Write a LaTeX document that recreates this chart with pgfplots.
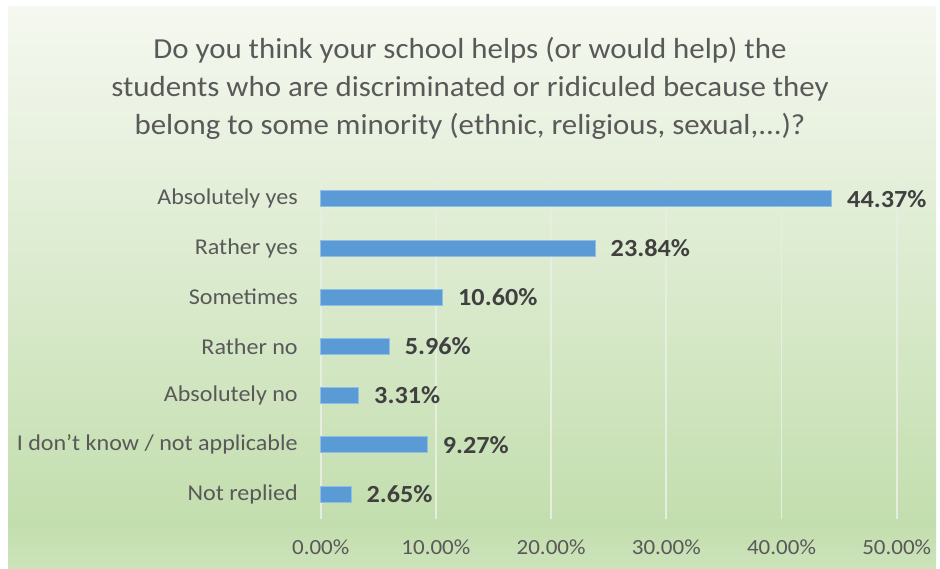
\documentclass[border=0pt]{standalone}
\usepackage{pgfplots}
\pgfplotsset{compat=1.18}
\usepackage{fontspec}
\setmainfont{Carlito}[FakeStretch=1.065]
\definecolor{barc}{HTML}{5B9BD5}
\definecolor{barl}{HTML}{8FBEE6}
\definecolor{titlec}{HTML}{595959}
\definecolor{valc}{HTML}{404040}
\definecolor{tickc}{HTML}{595959}
\definecolor{gridc}{HTML}{E6EFDF}
\definecolor{c0}{HTML}{CCE3BA}
\definecolor{c1}{HTML}{C3DEAE}
\definecolor{c2}{HTML}{D8E9CA}
\definecolor{c3}{HTML}{F5F8F0}
\pgfdeclareverticalshading{bg}{100bp}{color(0bp)=(c0); color(25bp)=(c0); color(29bp)=(c1); color(48bp)=(c2); color(75bp)=(c3); color(100bp)=(c3)}
\pgfplotstableread{
y x
0 44.37
1 23.84
2 10.60
3 5.96
4 3.31
5 9.27
6 2.65
}\datatab
\begin{document}
\begin{tikzpicture}[x=0.5pt,y=0.5pt]
\fill[white] (0,0) rectangle (940,568);
\shade[shading=bg] (8,0) rectangle (936,561);
\begin{axis}[
  at={(160.35pt,24.7pt)}, anchor=south west,
  scale only axis, width=288pt, height=172.2pt,
  xbar, bar width=8pt,
  xmin=0, xmax=50, ymin=-0.5, ymax=6.5,
  y dir=reverse,
  ytick={0,...,6},
  yticklabels={Absolutely yes, Rather yes, Sometimes, Rather no, Absolutely no, I don't know / not applicable, Not replied},
  xtick={0,10,...,50},
  xticklabel={\pgfmathprintnumber[fixed,zerofill,precision=2]{\tick}\%},
  /pgf/number format/assume math mode=true,
  xmajorgrids,
  major grid style={color=gridc, line width=0.9pt},
  axis line style={draw=none},
  major tick length=0pt,
  tick style={draw=none},
  yticklabel style={font=\fontsize{11.3}{13}\selectfont, color=tickc, anchor=east, inner sep=0pt, xshift=-11.3pt},
  xticklabel style={font=\fontsize{10.8}{13}\selectfont, color=tickc, anchor=center, inner sep=0pt, yshift=-14.5pt},
  point meta=x,
  nodes near coords={\pgfmathprintnumber[fixed,zerofill,precision=2]{\pgfplotspointmeta}\%},
  nodes near coords style={font=\fontsize{12.3}{14}\selectfont\bfseries, color=valc, anchor=west, inner sep=0pt, xshift=7.5pt},
  clip=false,
]
\draw[gridc, line width=0.9pt] (axis cs:0,-0.5) -- (axis cs:0,6.5);
\addplot[fill=barc, draw=barl, line width=0.4pt] table[x=x, y=y] {\datatab};
\end{axis}
\begin{scope}[font=\fontsize{14.5}{17}\selectfont, color=titlec]
\node[anchor=base] at (470,509) {Do you think your school helps (or would help) the};
\node[anchor=base] at (470,471) {students who are discriminated or ridiculed because they};
\node[anchor=base] at (470,433) {belong to some minority (ethnic, religious, sexual,...)?};
\end{scope}
\end{tikzpicture}
\end{document}
